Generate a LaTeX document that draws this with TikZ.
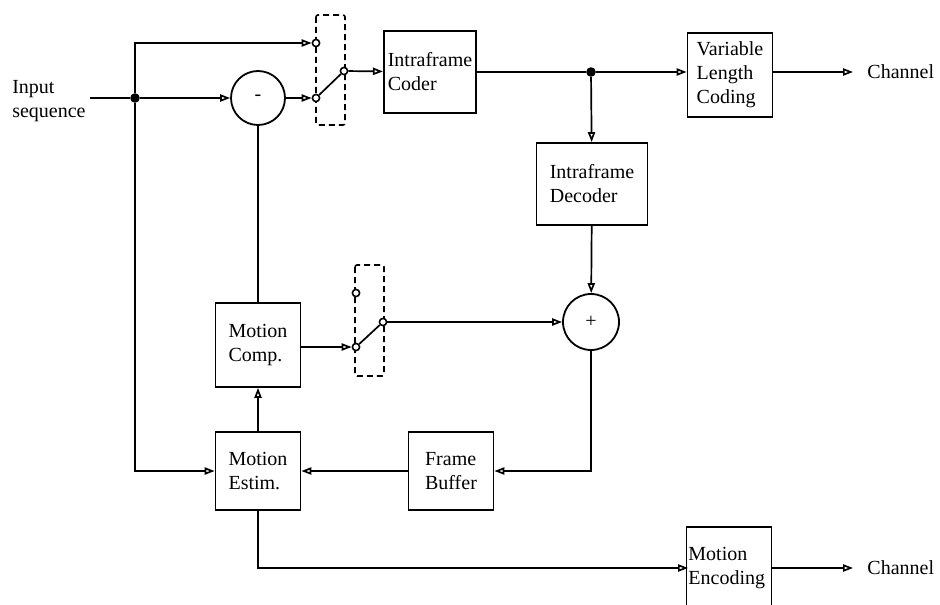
\documentclass[tikz,border=0pt]{standalone}
\usepackage{fontspec}
\setmainfont{Liberation Serif}
\usetikzlibrary{positioning,arrows.meta}
\tikzset{
  blk/.style={draw, line width=0.9pt, align=left, inner sep=2pt,
    minimum width=42.5pt, minimum height=41pt},
  sumnode/.style={draw, circle, line width=0.9pt, minimum size=27pt, inner sep=0pt},
  contact/.style={draw, circle, line width=0.8pt, fill=white, minimum size=3.6pt, inner sep=0pt},
  jdot/.style={circle, fill=black, minimum size=4.8pt, inner sep=0pt},
  wire/.style={line width=0.85pt},
  sig/.style={wire, -{Triangle[open, length=5pt, width=3.6pt]}},
  swbox/.style={draw, densely dashed, line width=0.8pt, rounded corners=1pt},
}

\begin{document}
\begin{tikzpicture}[x=0.5pt, y=-0.5pt]
  \useasboundingbox (0,0) rectangle (940,604);
  % Umschalter-Rahmen
  \draw[swbox] (316,15) rectangle (345,125);
  \draw[swbox] (355,265) rectangle (384,376);
  % Bloecke
  \node[blk] (coder) at (430,72) {Intraframe\\Coder};
  \node[blk, minimum height=42pt] (vlc) at (730,75) {Variable\\Length\\Coding};
  \node[blk, minimum width=55.5pt] (dec) at (592,184) {Intraframe\\Decoder};
  \node[blk, minimum height=42pt] (comp) at (258,345) {Motion\\Comp.};
  \node[blk, minimum height=39pt] (estim) at (258,471) {Motion\\Estim.};
  \node[blk, minimum height=39pt] (fbuf) at (451,471) {Frame\\Buffer};
  \node[blk, minimum height=56pt] (menc) at (729,583) {};
  \node[anchor=west, align=left, inner sep=0pt] (menctxt) at (688,568) {Motion\\Encoding};
  % Summierer
  \node[sumnode] (minus) at (258,98) {-};
  \node[sumnode, minimum size=28pt] (plus) at (591,322) {+};
  % Kontakte
  \node[contact] (sa) at (316,43) {};
  \node[contact] (sb) at (316,98) {};
  \node[contact] (sc) at (344,71) {};
  \node[contact] (ta) at (356,293) {};
  \node[contact] (tb) at (356,347) {};
  \node[contact] (tc) at (383,322) {};
  % Verzweigungen
  \node[jdot] (j1) at (135,98) {};
  \node[jdot] (j2) at (591,72) {};
  % Ein- und Ausgaenge
  \node[anchor=east, align=left, inner sep=2pt] (inp) at (90,101) {Input\\sequence};
  \node[anchor=west, inner xsep=7pt] (ch1) at (853,72) {Channel};
  \node[anchor=west, inner xsep=7pt] (ch2) at (853,568) {Channel};
  % Verbindungen
  \draw[wire] (inp.east |- j1) -- (j1);
  \draw[sig] (j1) -- (minus);
  \draw[sig] (j1) |- (sa);
  \draw[sig] (j1) |- (estim);
  \draw[sig] (minus) -- (sb);
  \draw[wire] (sb) -- (sc);
  \draw[sig] (sc) -- (coder);
  \draw[wire] (coder) -- (j2);
  \draw[sig] (j2) -- (j2 -| vlc.west);
  \draw[sig] (vlc.east |- ch1) -- (ch1);
  \draw[sig] (j2) -- (dec);
  \draw[sig] (dec) -- (plus);
  \draw[sig] (plus) |- (fbuf);
  \draw[sig] (fbuf) -- (estim);
  \draw[sig] (estim) -- (comp);
  \draw[wire] (minus) -- (comp);
  \draw[sig] (comp.east |- tb) -- (tb);
  \draw[wire] (tb) -- (tc);
  \draw[sig] (tc) -- (plus);
  \draw[sig] (estim) |- (menctxt);
  \draw[sig] (menc.east |- ch2) -- (ch2);
\end{tikzpicture}
\end{document}
